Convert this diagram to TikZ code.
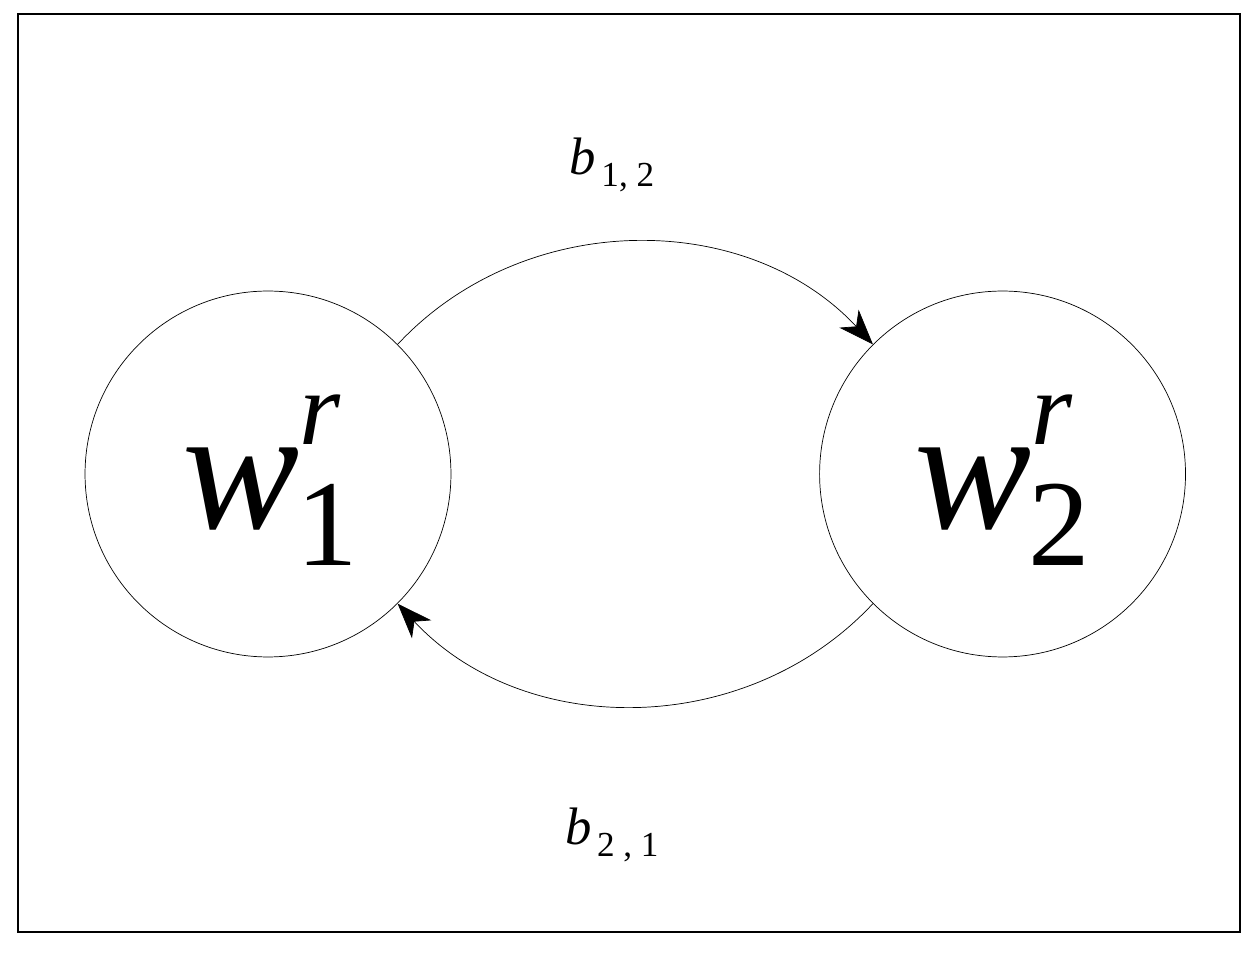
\documentclass[tikz,border=0pt]{standalone}
\usepackage{fontspec}
\setmainfont{Liberation Serif}
\usetikzlibrary{arrows.meta,positioning}
\tikzset{
    state/.style={
           circle,
           draw=black, thin,
           minimum size=7.32cm,
           inner sep=0pt,
           },
    lbl/.style={font=\fontsize{30}{30}\selectfont},
}
\newcommand{\wsym}[1]{\fontsize{100}{100}\selectfont\textit{w}%
  \makebox[0pt][l]{\fontsize{60}{60}\selectfont\raisebox{0.8em}{\textit{r}}}%
  \kern-0.02em{\fontsize{70}{70}\selectfont\raisebox{-0.3em}{#1}}}
\newcommand{\bsym}[1]{\textit{b}\kern0.1em{\fontsize{20}{20}\selectfont\raisebox{-0.35em}{#1}}}
\begin{document}
\begin{tikzpicture}[x=0.02cm,y=-0.02cm,>={Stealth[length=20pt,width=15pt,inset=6pt]}]
 \useasboundingbox (0,0) rectangle (1255,955);
 \draw[thick] (18,14) rectangle (1240,932);

 \node[state] (W1) at (268,474) {};
 \node[state, right=7.36cm of W1] (W2) {};
 \node at (270,480) {\wsym{1}};
 \node at (1002,480) {\wsym{2}};

 % labels of the transitions
 \node[lbl] (B12) at (612,165) {\bsym{1,~2}};
 \node[lbl] (B21) at (612,835) {\bsym{2~,~1}};

 \draw[->] (W1.45) to[bend left=47] (W2.135);
 \draw[->] (W2.225) to[bend left=47] (W1.-45);
\end{tikzpicture}
\end{document}
